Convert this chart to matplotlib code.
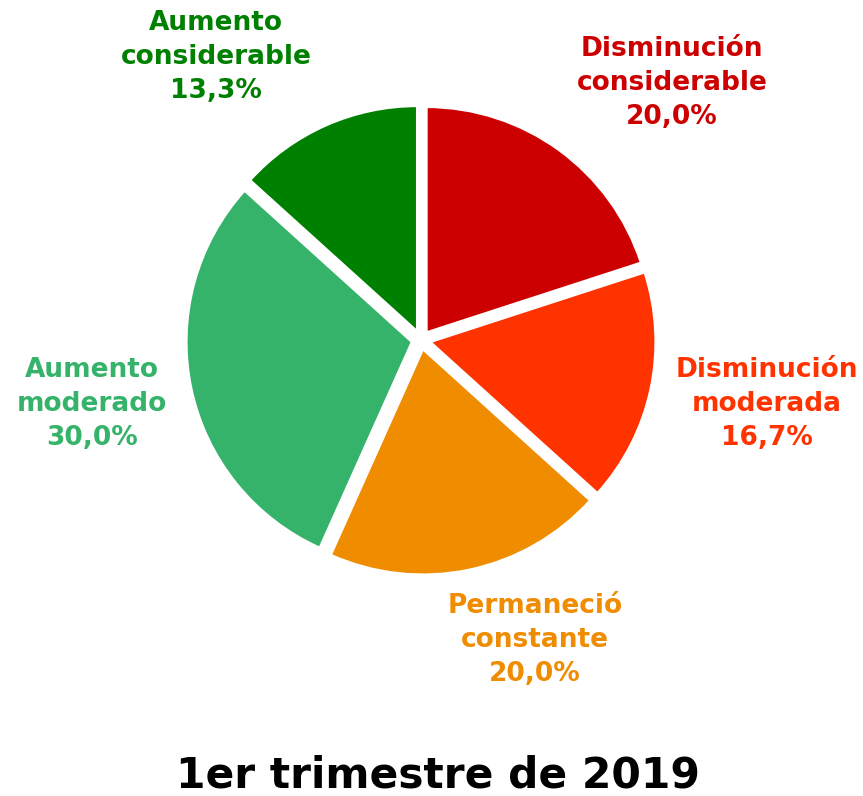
import matplotlib.pyplot as plt

categorias = ["Disminución\nconsiderable", "Disminución\nmoderada", "Permaneció\nconstante",
              "Aumento\nmoderado", "Aumento\nconsiderable"]
valores = [20.0, 16.7, 20.0, 30.0, 13.3]
colores = ["#CC0000", "#FF3300", "#F08C00", "#36B36A", "#008000"]
# posiciones de las etiquetas (pixeles, y hacia arriba)
pos_etiquetas = [(672, 713), (767, 392), (535, 156), (92, 392), (216, 739)]
titulo = "1er trimestre de 2019"

W, H = 863, 796
fig = plt.figure(figsize=(W / 100, H / 100), dpi=100)
ax = fig.add_axes([0, 0, 1, 1])

# explode va en unidades de datos (pixeles aqui)
ax.pie(valores, colors=colores, startangle=90, counterclock=False,
       center=(421, 456), radius=226, explode=[9] * len(valores),
       wedgeprops=dict(linewidth=2, edgecolor="white"))
ax.set_xlim(0, W)
ax.set_ylim(0, H)
ax.set_aspect("equal")
ax.axis("off")

for cat, v, c, (x, y) in zip(categorias, valores, colores, pos_etiquetas):
    txt = cat + "\n" + f"{v:.1f}%".replace(".", ",")
    ax.text(x, y, txt, color=c, ha="center", va="center", fontsize=19,
            fontweight="bold", family="DejaVu Sans", linespacing=1.42)

ax.text(438, 8, titulo, ha="center", va="baseline", fontsize=30.5,
        fontweight="bold", family="DejaVu Sans")

fig.savefig("out.png", dpi=100)
